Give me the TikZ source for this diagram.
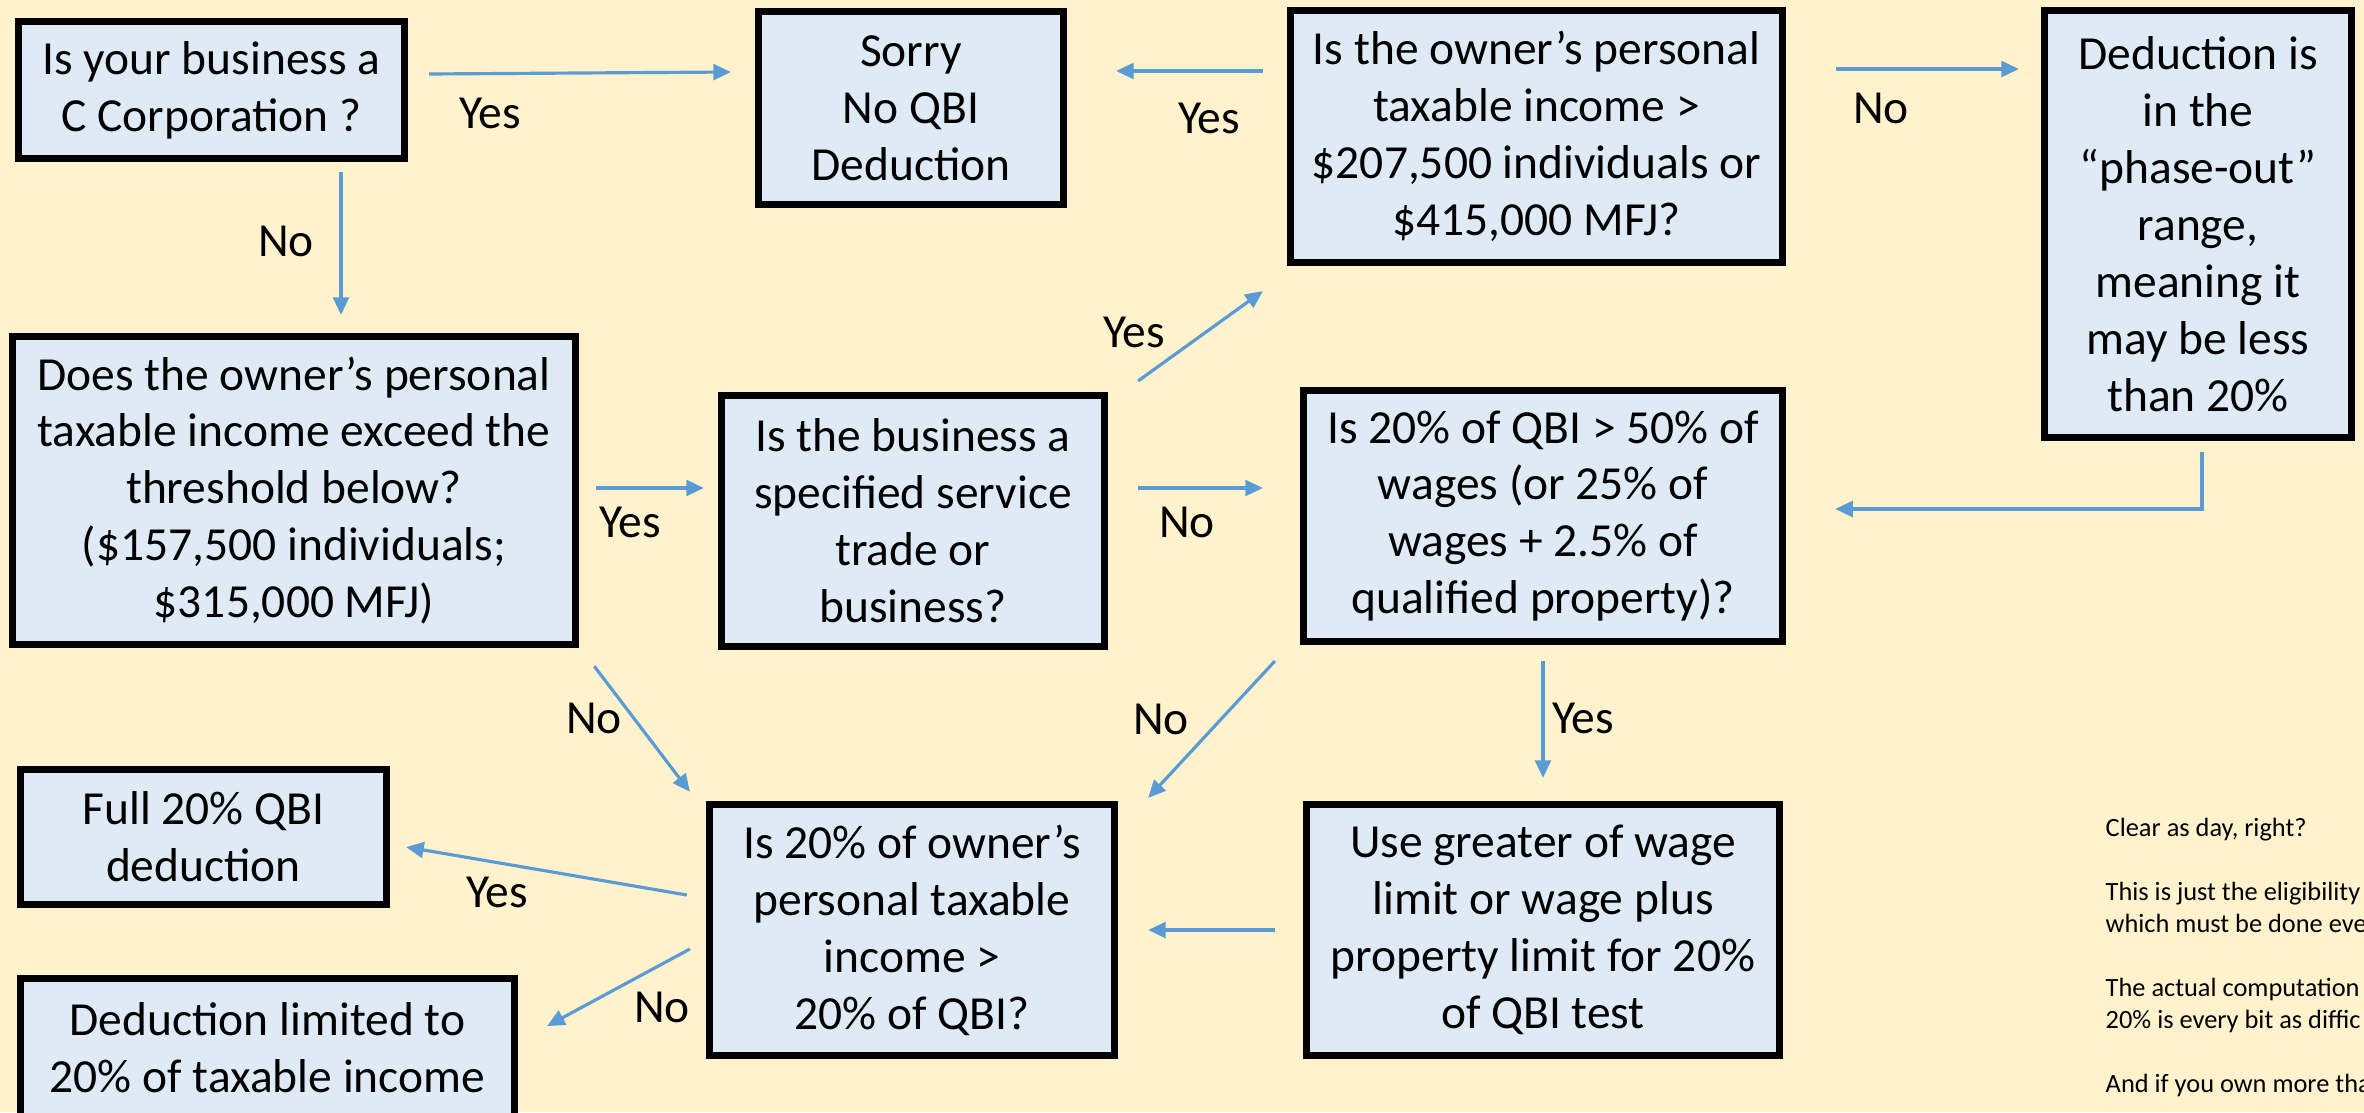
\documentclass[tikz,border=0pt]{standalone}
\usepackage{fontspec}
\setmainfont{Carlito}
\usetikzlibrary{calc}
\usetikzlibrary{arrows.meta}
\usepackage{xcolor}
\definecolor{bgyellow}{HTML}{FFF2CC}
\definecolor{boxblue}{HTML}{DEEBF7}
\definecolor{flowblue}{HTML}{5B9BD5}

\begin{document}
\begin{tikzpicture}[x=0.01cm, y=-0.01cm,
  box/.style = {draw, line width=2pt, fill=boxblue, align=center, inner sep=0, font=\fontsize{13.5}{16.2}\selectfont},
  flow/.style = {flowblue, line width=.9pt, -{Triangle[length=5pt, width=4.5pt]}},
  answer/.style = {inner sep=0, font=\fontsize{13.5}{16.2}\selectfont}]

\clip (0,0) rectangle (2364,1112);
\fill[bgyellow] (0,0) rectangle (2364,1112);

\node[box, minimum width=3.86cm, minimum height=1.37cm] (corp) at (211.5,90) {Is your business a\\C Corporation ?};
\node[box, minimum width=3.05cm, minimum height=1.93cm] (sorry) at (911,108) {Sorry\\No QBI\\Deduction};
\node[box, minimum width=4.92cm, minimum height=2.52cm] (upper) at (1536.5,136.5) {Is the owner’s personal\\taxable income >\\\$207,500 individuals or\\\$415,000 MFJ?};
\node[box, minimum width=3.07cm, minimum height=4.27cm] (phase) at (2198,224) {Deduction is\\in the\\“phase-out”\\range,\\meaning it\\may be less\\than 20\%};

\node[box, minimum width=5.63cm, minimum height=3.08cm] (thresh) at (294,490.5) {Does the owner’s personal\\taxable income exceed the\\threshold below?\\(\$157,500 individuals;\\\$315,000 MFJ)};
\node[box, minimum width=3.83cm, minimum height=2.51cm] (sstb) at (913,521) {Is the business a\\specified service\\trade or\\business?};
\node[box, minimum width=4.79cm, minimum height=2.51cm] (wages) at (1543,516) {Is 20\% of QBI > 50\% of\\wages (or 25\% of\\wages + 2.5\% of\\qualified property)?};

\node[box, minimum width=3.66cm, minimum height=1.35cm] (full) at (203.5,837) {Full 20\% QBI\\deduction};
\node[box, minimum width=4.05cm, minimum height=2.51cm] (ratio) at (912,930) {Is 20\% of owner’s\\personal taxable\\income >\\20\% of QBI?};
\node[box, minimum width=4.73cm, minimum height=2.51cm] (greater) at (1543,930) {Use greater of wage\\limit or wage plus\\property limit for 20\%\\of QBI test};
\node[box, minimum width=4.94cm, minimum height=1.38cm] (limited) at (267.5,1047.5) {Deduction limited to\\20\% of taxable income};

\draw[flow] ($(corp.east)+(21,-16)$) -- ($(sorry.west)+(-24,-36)$);
\draw[flow] ($(corp.south)+(129.5,10)$) -- ($(thresh.north)+(47,-18)$);
\draw[flow] ($(upper.west)+(-24,-65.5)$) -- ($(sorry.east)+(49,-37)$);
\draw[flow] ($(upper.east)+(50,-67.5)$) -- ($(phase.west)+(-22,-155)$);
\draw[flow] ($(phase.south)+(4,11)$) |- ($(wages.east)+(49,-7)$);
\draw[flow] ($(sstb.north east)+(30,-11)$) -- ($(upper.south west)+(-24,25)$);
\draw[flow] ($(thresh.east)+(17,-2.5)$) -- ($(sstb.west)+(-14,-33)$);
\draw[flow] ($(sstb.east)+(30,-33)$) -- ($(wages.west)+(-37,-28)$);
\draw[flow] ($(thresh.south east)+(15,18)$) -- ($(ratio.north west)+(-16,-9)$);
\draw[flow] ($(wages.south west)+(-25,16)$) -- ($(ratio.north east)+(30,-3)$);
\draw[flow] ($(wages.south)+(0,16)$) -- ($(greater.north)+(0,-23)$);
\draw[flow] ($(greater.west)+(-28,0)$) -- ($(ratio.east)+(30,0)$);
\draw[flow] ($(ratio.west)+(-19,-35)$) -- ($(full.east)+(16,10)$);
\draw[flow] ($(ratio.west)+(-16,19)$) -- ($(limited.east)+(29,-21.5)$);

\node[answer] (y1) at (490,113) {Yes};
\node[answer] (n1) at (286,241) {No};
\node[answer] (y2) at (1209,118) {Yes};
\node[answer] (n2) at (1881,108) {No};
\node[answer] (y3) at (1134,332) {Yes};
\node[answer] (y4) at (630,522) {Yes};
\node[answer] (n3) at (1187,522) {No};
\node[answer] (n4) at (594,718) {No};
\node[answer] (n5) at (1161,719) {No};
\node[answer] (y5) at (1583,718) {Yes};
\node[answer] (y6) at (497,892) {Yes};
\node[answer] (n6) at (662,1007) {No};

\node[anchor=north west, align=left, inner sep=0, font=\fontsize{7.5}{9.1}\selectfont] (note) at (2105,817)
  {Clear as day, right?\\[9.1pt]
   This is just the eligibility\\which must be done eve\\[9.1pt]
   The actual computation\\20\% is every bit as diffic\\[9.1pt]
   And if you own more tha};

\end{tikzpicture}
\end{document}
